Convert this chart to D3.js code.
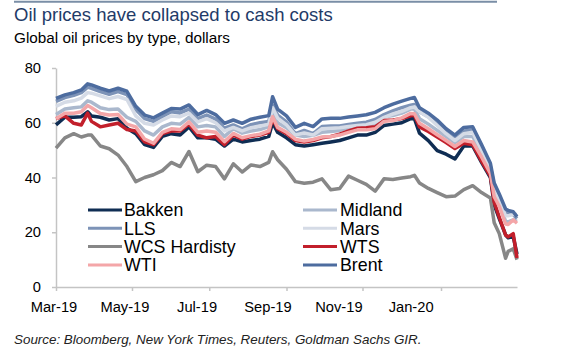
<!DOCTYPE html>
<html>
<head>
<meta charset="utf-8">
<script src="https://cdn.jsdelivr.net/npm/d3@7"></script>
<style>
  body { margin: 0; background: #fff; }
  svg { display: block; font-family: "Liberation Sans", Arial, sans-serif; }
</style>
</head>
<body>
<svg id="chart" width="566" height="354"></svg>
<script>
'use strict';

var dates = ['2019-03-29','2019-04-05','2019-04-12','2019-04-18','2019-04-23','2019-04-26',
  '2019-05-03','2019-05-10','2019-05-17','2019-05-24','2019-05-31','2019-06-07','2019-06-14',
  '2019-06-21','2019-06-28','2019-07-05','2019-07-12','2019-07-19','2019-07-26','2019-08-02',
  '2019-08-09','2019-08-16','2019-08-23','2019-08-30','2019-09-06','2019-09-13','2019-09-16',
  '2019-09-20','2019-09-27','2019-10-04','2019-10-11','2019-10-18','2019-10-25','2019-11-01',
  '2019-11-08','2019-11-15','2019-11-22','2019-11-29','2019-12-06','2019-12-13','2019-12-20',
  '2019-12-27','2020-01-03','2020-01-06','2020-01-10','2020-01-17','2020-01-24','2020-01-31',
  '2020-02-07','2020-02-14','2020-02-21','2020-02-28','2020-03-06','2020-03-09','2020-03-13',
  '2020-03-18','2020-03-20','2020-03-24','2020-03-27'];

var brent = [68.9, 70.2, 71.0, 72.0, 74.2, 73.8, 72.6, 71.6, 72.6, 71.5,
  66.0, 62.8, 61.8, 63.5, 65.2, 65.0, 66.5, 63.0, 64.5, 63.0,
  59.8, 61.0, 59.8, 61.3, 62.0, 62.6, 69.5, 65.0, 62.5, 58.3,
  59.8, 58.6, 61.4, 61.6, 61.6, 62.1, 62.5, 62.9, 63.8, 65.5,
  66.8, 67.9, 68.9, 69.2, 65.5, 63.5, 61.0, 57.8, 55.5, 58.3,
  58.5, 52.0, 45.2, 38.0, 34.0, 28.5, 28.0, 27.5, 25.7];

var lls = [67.8, 69.2, 70.0, 71.0, 73.0, 72.6, 71.4, 70.4, 71.4, 70.3,
  64.8, 61.5, 60.5, 62.3, 64.0, 63.6, 65.0, 61.5, 62.8, 61.3,
  58.0, 59.2, 57.8, 59.3, 60.0, 60.5, 66.5, 62.8, 60.3, 56.0,
  57.2, 56.0, 58.6, 58.8, 58.8, 59.4, 59.8, 60.2, 61.2, 63.0,
  64.3, 65.5, 66.4, 66.7, 64.0, 62.2, 59.5, 56.5, 54.5, 57.0,
  57.3, 51.0, 44.0, 37.0, 32.5, 27.0, 27.0, 26.5, 25.0];

var wcs = [50.7, 54.5, 56.0, 54.8, 55.5, 55.5, 51.5, 50.5, 48.2, 44.0,
  38.5, 40.0, 41.0, 42.5, 45.5, 44.0, 49.5, 42.1, 44.5, 44.0,
  39.5, 45.0, 42.0, 44.6, 44.0, 45.5, 49.4, 46.5, 43.0, 38.5,
  37.9, 38.3, 39.5, 35.5, 36.0, 40.5, 39.0, 37.5, 35.0, 39.5,
  39.3, 39.8, 40.3, 40.8, 38.0, 36.0, 34.5, 33.0, 33.2, 35.6,
  37.0, 34.5, 32.5, 23.5, 19.5, 10.5, 13.0, 14.0, 10.0];

var wti = [61.5, 63.5, 63.5, 64.0, 66.3, 65.5, 63.4, 62.8, 63.0, 59.5,
  58.5, 54.0, 52.5, 56.5, 57.8, 57.5, 60.3, 56.5, 57.0, 56.5,
  53.1, 56.1, 54.5, 55.3, 55.8, 57.0, 62.2, 58.3, 56.5, 54.0,
  53.3, 53.9, 54.8, 55.0, 55.5, 56.5, 57.4, 57.4, 57.8, 60.5,
  60.8, 61.8, 63.4, 63.3, 59.8, 57.8, 55.6, 53.5, 51.3, 53.5,
  53.0, 47.5, 41.5, 33.0, 29.5, 23.0, 22.8, 24.5, 23.3];

var midland = [63.0, 65.0, 65.5, 65.8, 68.0, 67.5, 65.5, 64.8, 65.0, 62.0,
  60.5, 57.0, 55.5, 58.5, 59.8, 59.5, 62.0, 58.5, 59.0, 58.5,
  55.0, 57.8, 56.2, 57.0, 57.5, 58.6, 64.0, 60.0, 58.2, 55.5,
  55.0, 55.4, 56.5, 56.8, 57.2, 58.2, 59.0, 59.2, 59.6, 62.2,
  62.6, 63.5, 65.0, 65.0, 61.5, 59.5, 57.2, 55.0, 52.8, 55.0,
  55.0, 49.0, 42.5, 34.5, 30.5, 24.0, 23.8, 24.5, 24.0];

var mars = [66.0, 67.5, 68.0, 69.0, 71.0, 70.8, 69.8, 68.8, 69.6, 68.5,
  62.5, 59.8, 59.2, 61.0, 62.5, 62.2, 63.5, 60.3, 61.5, 60.0,
  57.0, 58.3, 57.0, 58.2, 58.8, 59.4, 65.5, 61.7, 59.2, 55.5,
  56.3, 55.5, 57.8, 58.0, 58.2, 58.6, 59.0, 59.3, 60.2, 62.0,
  63.2, 64.2, 65.5, 65.8, 64.0, 62.0, 59.0, 56.0, 53.5, 56.0,
  56.5, 50.0, 43.5, 35.0, 31.5, 26.0, 26.0, 26.5, 26.5];

var wts = [61.5, 62.5, 59.8, 59.2, 63.5, 60.5, 58.5, 59.2, 59.8, 57.5,
  57.0, 53.0, 52.0, 56.0, 57.0, 57.0, 59.5, 55.5, 54.5, 55.0,
  52.0, 55.5, 54.0, 55.0, 55.5, 56.5, 61.5, 57.8, 56.0, 53.5,
  53.0, 53.5, 54.5, 55.0, 55.8, 57.0, 58.0, 58.2, 58.5, 60.8,
  61.0, 61.5, 62.5, 62.8, 58.5, 56.8, 54.8, 52.8, 50.6, 52.5,
  52.0, 46.0, 40.5, 31.0, 25.5, 19.0, 18.3, 19.5, 10.6];

var bakken = [59.2, 62.0, 62.0, 62.2, 64.0, 62.5, 62.0, 61.0, 61.5, 58.0,
  56.0, 52.0, 51.0, 55.0, 56.0, 55.5, 58.5, 54.5, 54.5, 54.0,
  51.5, 54.0, 53.0, 53.5, 54.0, 55.0, 60.0, 56.5, 54.5, 52.0,
  51.5, 52.0, 52.5, 53.0, 53.5, 54.5, 55.5, 55.5, 56.5, 59.0,
  59.5, 60.0, 61.5, 61.5, 56.2, 53.5, 49.8, 48.5, 46.8, 51.5,
  51.5, 45.5, 40.0, 30.0, 25.0, 19.0, 18.0, 18.5, 12.0];

var yTicks = [0, 20, 40, 60, 80];
var xTickDates = ['2019-03-29','2019-05-28','2019-07-28','2019-09-27','2019-11-26','2020-01-27'];
var xLabelDates = ['2019-03-27','2019-05-22','2019-07-18','2019-09-12','2019-11-07','2020-01-03'];

var legendLeft = ['Bakken', 'LLS', 'WCS Hardisty', 'WTI'];
var legendRight = ['Midland', 'Mars', 'WTS', 'Brent'];

var parse = d3.timeParse('%Y-%m-%d');

// draw order: last one ends up on top
var series = [
  {name: 'Bakken', values: bakken, color: '#0f2d53'},
  {name: 'Midland', values: midland, color: '#aab8cd'},
  {name: 'LLS', values: lls, color: '#7d93b7'},
  {name: 'Mars', values: mars, color: '#d5dbe6'},
  {name: 'WCS Hardisty', values: wcs, color: '#878787'},
  {name: 'WTS', values: wts, color: '#c21f2b'},
  {name: 'WTI', values: wti, color: '#f4a6a8'},
  {name: 'Brent', values: brent, color: '#4d6c9f'}
];
var colorOf = {};
series.forEach(function(s) { colorOf[s.name] = s.color; });

var svg = d3.select('#chart');

var x = d3.scaleTime()
  .domain([parse(dates[0]), parse(dates[dates.length - 1])])
  .range([56, 517]);
var y = d3.scaleLinear().domain([0, 80]).range([287, 68]);

// header
svg.append('line')
  .attr('x1', 14).attr('x2', 497).attr('y1', 1.8).attr('y2', 1.8)
  .attr('stroke', '#7a8ea6').attr('stroke-width', 2);
svg.append('text')
  .attr('x', 14).attr('y', 21)
  .attr('font-size', 18.5).attr('fill', '#1f3b68')
  .text('Oil prices have collapsed to cash costs');
svg.append('text')
  .attr('x', 14).attr('y', 43)
  .attr('font-size', 15.3).attr('fill', '#000')
  .text('Global oil prices by type, dollars');

// axes
var yAxis = svg.append('g')
  .attr('transform', 'translate(56,0)')
  .call(d3.axisLeft(y).tickValues(yTicks).tickSize(4).tickSizeOuter(0).tickPadding(11));

var xAxis = svg.append('g')
  .attr('transform', 'translate(0,287)')
  .call(d3.axisBottom(x).tickValues(xTickDates.map(parse)).tickSize(4).tickSizeOuter(0).tickFormat(''));

var xLabels = svg.append('g')
  .attr('transform', 'translate(0,287)')
  .call(d3.axisBottom(x).tickValues(xLabelDates.map(parse)).tickSize(0).tickPadding(14.5)
    .tickFormat(d3.timeFormat('%b-%y')));
xLabels.select('.domain').remove();

[yAxis, xAxis].forEach(function(a) {
  a.select('.domain').attr('stroke', '#c4c4c4').attr('stroke-width', 1.5);
  a.selectAll('.tick line').attr('stroke', '#c4c4c4').attr('stroke-width', 1.5);
});
[yAxis, xLabels].forEach(function(a) {
  a.selectAll('text')
    .attr('font-family', '"Liberation Sans", Arial, sans-serif')
    .attr('font-size', 14.7).attr('fill', '#000');
});

// lines
var line = d3.line()
  .x(function(d, i) { return x(parse(dates[i])); })
  .y(function(d) { return y(d); });

svg.append('g').selectAll('path')
  .data(series)
  .enter().append('path')
    .attr('d', function(s) { return line(s.values); })
    .attr('fill', 'none')
    .attr('stroke', function(s) { return s.color; })
    .attr('stroke-width', 3.5)
    .attr('stroke-linejoin', 'round');

// legend
function legendColumn(names, lineX, textX) {
  var g = svg.append('g');
  var rows = g.selectAll('g').data(names).enter().append('g')
    .attr('transform', function(d, i) { return 'translate(0,' + (210 + i * 18.3) + ')'; });
  rows.append('line')
    .attr('x1', lineX).attr('x2', lineX + 34)
    .attr('stroke', function(d) { return colorOf[d]; })
    .attr('stroke-width', 3);
  rows.append('text')
    .attr('x', textX).attr('dy', '0.35em')
    .attr('font-size', 17.8).attr('fill', '#000')
    .text(function(d) { return d; });
}
legendColumn(legendLeft, 88, 124);
legendColumn(legendRight, 303, 340);

svg.append('text')
  .attr('x', 14).attr('y', 344)
  .attr('font-size', 13.4).attr('font-style', 'italic').attr('fill', '#222')
  .text('Source: Bloomberg, New York Times, Reuters, Goldman Sachs GIR.');
</script>
</body>
</html>
